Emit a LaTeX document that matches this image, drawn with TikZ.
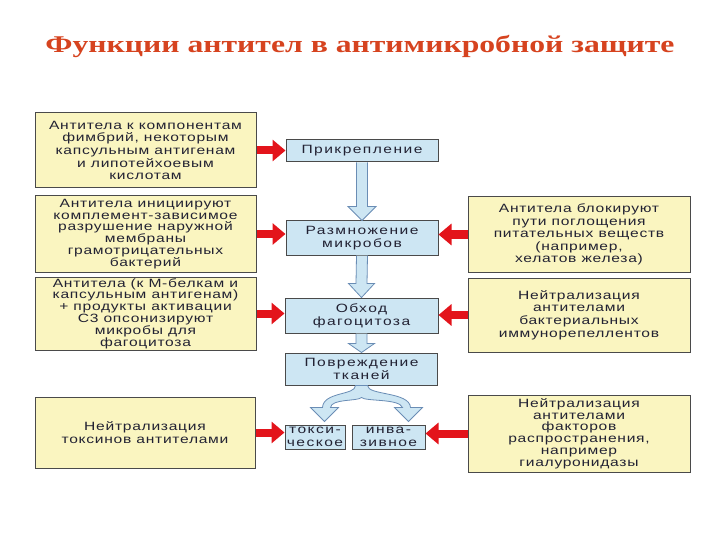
\documentclass[tikz,border=0pt]{standalone}
\usepackage{fontspec}
\usetikzlibrary{arrows.meta,calc}
\newfontfamily\boxfont{Liberation Sans}[FakeStretch=1.3,LetterSpace=6]
\newfontfamily\cboxfont{Liberation Sans}[FakeStretch=1.3,LetterSpace=12]
\newfontfamily\titlefont{Liberation Serif}[FakeStretch=1.32]
\definecolor{paleyellow}{HTML}{FAF5C0}
\definecolor{paleblue}{HTML}{CDE6F3}
\definecolor{boxedge}{HTML}{4A4A4A}
\definecolor{arrowedge}{HTML}{6A8DB5}
\definecolor{redarrowc}{HTML}{E3141B}
\definecolor{titlered}{HTML}{D6431F}
\definecolor{textdark}{HTML}{222233}
\begin{document}
\begin{tikzpicture}[x=1pt,y=-1pt,
  sidebox/.style={draw=boxedge,fill=paleyellow,line width=1pt,align=center,
    text=textdark,font=\boxfont\fontsize{12}{12.6}\selectfont,inner sep=0pt},
  tightbox/.style={sidebox,font=\boxfont\fontsize{12}{11.8}\selectfont},
  centerbox/.style={draw=boxedge,fill=paleblue,line width=1pt,align=center,
    text=textdark,font=\cboxfont\fontsize{12}{12.7}\selectfont,inner sep=0pt},
  redarr/.style={draw=redarrowc,line width=8pt,-{Triangle[length=13pt,width=21pt]}},
  bluearr/.style={draw=arrowedge,fill=paleblue,line width=0.8pt,line join=miter}]
\useasboundingbox[fill=white] (0,0) rectangle (720,540);
\node[text=titlered,font=\titlefont\bfseries\fontsize{24}{28}\selectfont] (title) at (360,47) {Функции антител в антимикробной защите};
% left boxes
\node[sidebox,minimum width=221,minimum height=75] (L1) at (145.5,150.5) {Антитела к компонентам\\фимбрий, некоторым\\капсульным антигенам\\и липотейхоевым\\кислотам};
\node[tightbox,minimum width=221,minimum height=76] (L2) at (145.5,234) {Антитела инициируют\\комплемент-зависимое\\разрушение наружной\\мембраны\\грамотрицательных\\бактерий};
\node[tightbox,minimum width=221,minimum height=73] (L3) at (145.5,313.5) {Антитела (к М-белкам и\\капсульным антигенам)\\+ продукты активации\\С3 опсонизируют\\микробы для\\фагоцитоза};
\node[sidebox,minimum width=220,minimum height=71] (L4) at (145,432.5) {Нейтрализация\\токсинов антителами};
% right boxes
\node[sidebox,minimum width=222,minimum height=75] (R1) at (579,234.5) {Антитела блокируют\\пути поглощения\\питательных веществ\\(например,\\хелатов железа)};
\node[sidebox,minimum width=222,minimum height=74] (R2) at (579,315) {Нейтрализация\\антителами\\бактериальных\\иммунорепеллентов};
\node[tightbox,minimum width=222,minimum height=77] (R3) at (579,433.5) {Нейтрализация\\антителами\\факторов\\распространения,\\например\\гиалуронидазы};
% center boxes
\node[centerbox,minimum width=152,minimum height=22] (C1) at (362,151) {Прикрепление};
\node[centerbox,minimum width=152,minimum height=34] (C2) at (362,238) {Размножение\\микробов};
\node[centerbox,minimum width=153,minimum height=35] (C3) at (361.5,315.5) {Обход\\фагоцитоза};
\node[centerbox,minimum width=152,minimum height=32] (C4) at (361.5,369) {Повреждение\\тканей};
\node[centerbox,minimum width=60,minimum height=24] (C5) at (315,437) {токси-\\ческое};
\node[centerbox,minimum width=73,minimum height=24] (C6) at (388.5,437) {инва-\\зивное};
% blue block arrows
\draw[bluearr] ($(C1.south)+(-5.5,0)$) -- ($(C2.north)+(-5.5,-14)$) -- ($(C2.north)+(-14,-14)$) -- (C2.north)
  -- ($(C2.north)+(14,-14)$) -- ($(C2.north)+(5.5,-14)$) -- ($(C1.south)+(5.5,0)$);
\draw[bluearr] ($(C2.south)+(-5.5,0)$) -- ($(C3.north)+(-5.5,-14)$) -- ($(C3.north)+(-13,-14)$) -- (C3.north)
  -- ($(C3.north)+(13,-14)$) -- ($(C3.north)+(5.5,-14)$) -- ($(C2.south)+(5.5,0)$);
\draw[bluearr] ($(C3.south)+(-5.5,0)$) -- ($(C4.north)+(-5.5,-9)$) -- ($(C4.north)+(-13,-9)$) -- (C4.north)
  -- ($(C4.north)+(13,-9)$) -- ($(C4.north)+(5.5,-9)$) -- ($(C3.south)+(5.5,0)$);
% fork arrow
\coordinate (fk) at (C4.south);
\draw[bluearr] ($(fk)+(-6,0)$) .. controls ($(fk)+(-6,10)$) and ($(fk)+(-38,6)$) .. ($(fk)+(-39,22)$)
  -- ($(fk)+(-51,22)$) -- ($(fk)+(-37,36)$) -- ($(fk)+(-23,22)$) -- ($(fk)+(-31,22)$)
  .. controls ($(fk)+(-30,13)$) and ($(fk)+(-4,16)$) .. ($(fk)+(0,12)$)
  .. controls ($(fk)+(4,16)$) and ($(fk)+(38,13)$) .. ($(fk)+(41,22)$)
  -- ($(fk)+(33,22)$) -- ($(fk)+(47,36)$) -- ($(fk)+(61,22)$) -- ($(fk)+(49,22)$)
  .. controls ($(fk)+(48,6)$) and ($(fk)+(6,10)$) .. ($(fk)+(6,0)$) -- cycle;
% red arrows
\draw[redarr] (L1.east) -- (L1.east -| C1.west);
\draw[redarr] (L2.east) -- (L2.east -| C2.west);
\draw[redarr] (L3.east) -- (L3.east -| C3.west);
\draw[redarr] (L4.east) -- (L4.east -| C5.west);
\draw[redarr] (R1.west) -- (R1.west -| C2.east);
\draw[redarr] (R2.west) -- (R2.west -| C3.east);
\draw[redarr] (R3.west) -- (R3.west -| C6.east);
\end{tikzpicture}
\end{document}
